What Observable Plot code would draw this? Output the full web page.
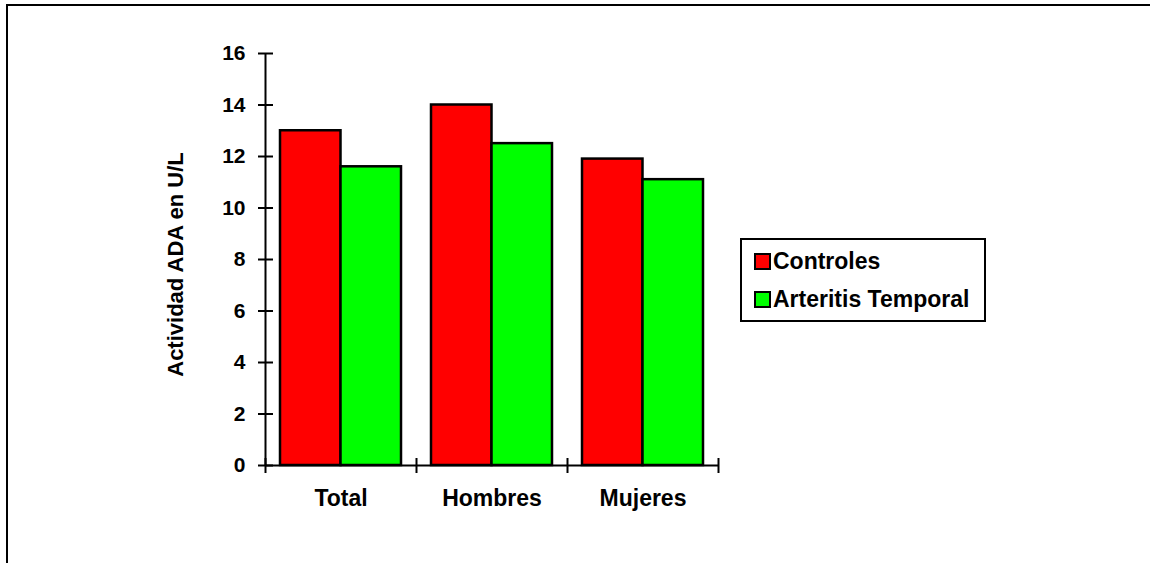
<!DOCTYPE html>
<html>
<head>
<meta charset="utf-8">
<script src="https://cdn.jsdelivr.net/npm/d3@7"></script>
<script src="https://cdn.jsdelivr.net/npm/@observablehq/plot@0.6"></script>
<style>
  html, body { margin: 0; padding: 0; background: #fff; }
  body { width: 1150px; height: 563px; position: relative; overflow: hidden;
         font-family: "Liberation Sans", Arial, sans-serif; }
  #page-border { position: absolute; left: 6px; top: 4px; width: 1200px; height: 600px;
                 border: 2px solid #000; box-sizing: border-box; }
  #chart { position: absolute; left: 0; top: 0; }
  #legend { position: absolute; left: 740px; top: 238px; width: 246px; height: 84px;
            border: 2px solid #000; box-sizing: border-box; background: #fff;
            font-weight: bold; font-size: 23px; color: #000; }
  .row { position: absolute; left: 12px; display: flex; align-items: center; height: 26px;
         white-space: nowrap; }
  .sw { width: 13px; height: 13px; border: 2px solid #000; margin-right: 2px; flex: none; }
</style>
</head>
<body>
<div id="page-border"></div>
<div id="chart"></div>
<div id="legend"></div>
<script>
// Mean ADA activity (U/L) by group
const categories = ["Total", "Hombres", "Mujeres"];
const series = ["Controles", "Arteritis Temporal"];
const controles = [13.0, 14.0, 11.9];
const arteritis = [11.6, 12.5, 11.1];
const seriesColors = ["#ff0000", "#00ff00"];
const yTicks = [0, 2, 4, 6, 8, 10, 12, 14, 16];
const yTitle = "Actividad ADA en U/L";

const rows = categories.flatMap((c, i) => [
  {category: c, series: series[0], value: controles[i]},
  {category: c, series: series[1], value: arteritis[i]}
]);

const W = 1150, H = 563;
const mL = 265, mR = 432, mT = 53, mB = 98;
const plotW = W - mL - mR;
const bw = plotW / categories.length;   // width of one category band
const gap = 15;                          // space between group and band edge

const family = "'Liberation Sans', Arial, sans-serif";
const tickFont = {fontFamily: family, fontWeight: "bold", fontSize: 21};
const catFont = {fontFamily: family, fontWeight: "bold", fontSize: 23};
const titleFont = {fontFamily: family, fontWeight: "bold", fontSize: 22};

const chart = Plot.plot({
  width: W,
  height: H,
  marginLeft: mL,
  marginRight: mR,
  marginTop: mT,
  marginBottom: mB,
  style: {fontFamily: family, fontSize: "21px", fontWeight: "bold", color: "#000", background: "transparent"},
  x: {domain: categories, padding: 0, axis: null},
  y: {domain: [0, 16], axis: null},
  color: {domain: series, range: seriesColors},
  marks: [
    // bars: first series on the left half of each group, second on the right half
    Plot.barY(rows.filter(d => d.series === series[0]), {
      x: "category", y: "value", fill: "series", stroke: "#000", strokeWidth: 2.5,
      insetLeft: gap, insetRight: bw / 2
    }),
    Plot.barY(rows.filter(d => d.series === series[1]), {
      x: "category", y: "value", fill: "series", stroke: "#000", strokeWidth: 2.5,
      insetLeft: bw / 2, insetRight: gap
    }),
    // category axis line
    Plot.ruleY([0], {stroke: "#000", strokeWidth: 2}),
    // value axis line
    Plot.ruleX([categories[0]], {x: d => d, dx: -bw / 2, y1: 0, y2: 16, stroke: "#000", strokeWidth: 2}),
    // group boundary ticks crossing the category axis
    Plot.ruleX(categories, {x: d => d, dx: -bw / 2, y1: 0, y2: 0, insetTop: -7, insetBottom: -8, stroke: "#000", strokeWidth: 2}),
    Plot.ruleX([categories[categories.length - 1]], {x: d => d, dx: bw / 2, y1: 0, y2: 0, insetTop: -7, insetBottom: -8, stroke: "#000", strokeWidth: 2}),
    // value ticks: outer part with labels, inner part crossing the axis
    Plot.axisY({ticks: yTicks, tickSize: 7, tickPadding: 13, tickFormat: d => d, label: null, strokeWidth: 2, ...tickFont}),
    Plot.ruleY(yTicks, {y: d => d, insetRight: plotW - 8, stroke: "#000", strokeWidth: 2}),
    // category labels
    Plot.axisX({tickSize: 0, tickPadding: 24, label: null, ...catFont}),
    // value axis title
    Plot.text([yTitle], {text: d => d, frameAnchor: "left", textAnchor: "middle", rotate: -90, dx: -90, dy: 5, ...titleFont, fill: "#000"})
  ]
});
document.getElementById("chart").appendChild(chart);

// legend
const legend = document.getElementById("legend");
series.forEach((s, i) => {
  const row = document.createElement("div");
  row.className = "row";
  row.style.top = (8 + i * 38) + "px";
  const sw = document.createElement("div");
  sw.className = "sw";
  sw.style.background = seriesColors[i];
  const label = document.createElement("span");
  label.textContent = s;
  row.appendChild(sw);
  row.appendChild(label);
  legend.appendChild(row);
});
</script>
</body>
</html>
